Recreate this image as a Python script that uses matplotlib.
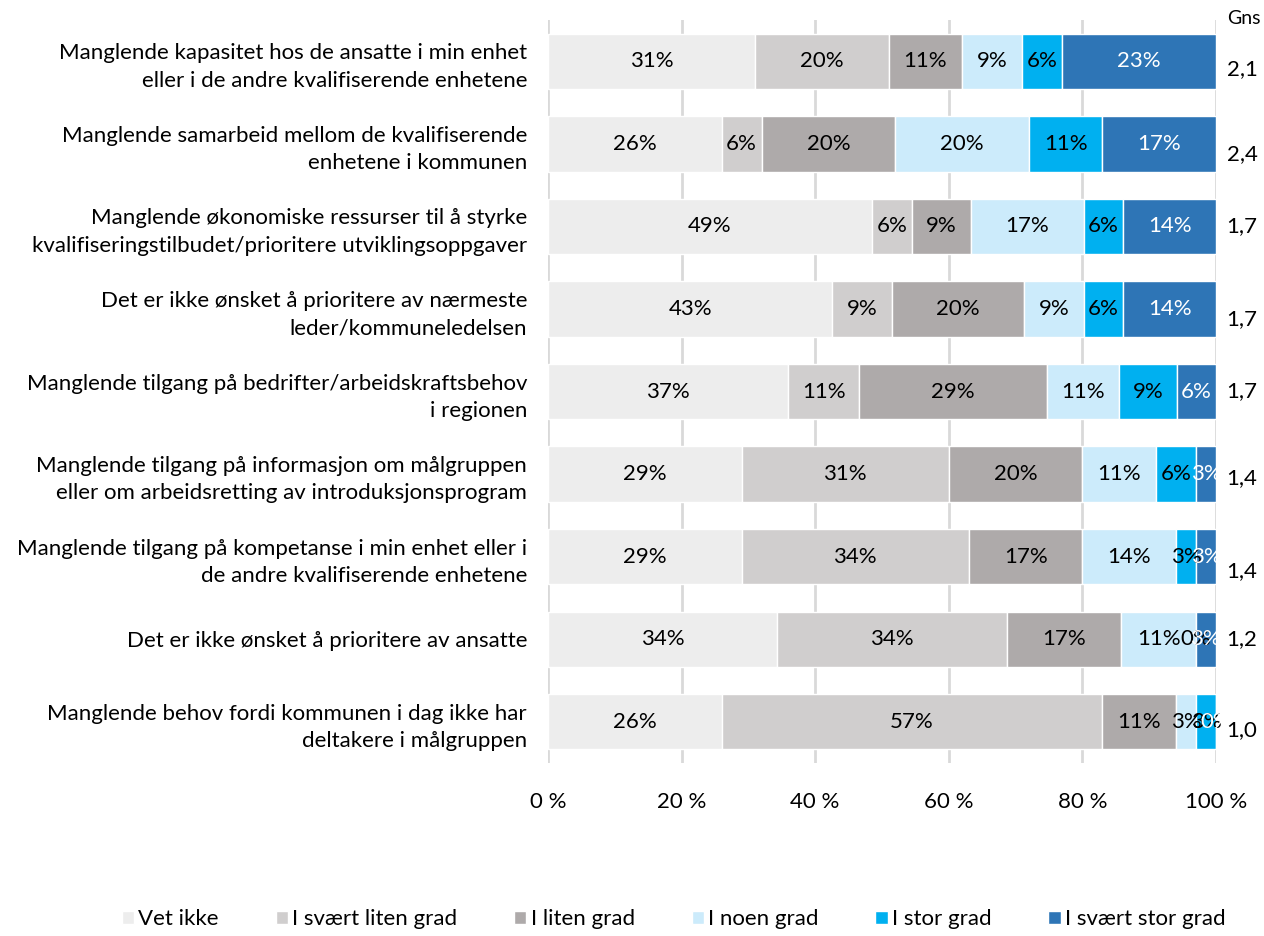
import numpy as np
import matplotlib.pyplot as plt

plt.rcParams['font.family'] = ['Lato', 'DejaVu Sans']

categories = [
    "Manglende kapasitet hos de ansatte i min enhet\neller i de andre kvalifiserende enhetene",
    "Manglende samarbeid mellom de kvalifiserende\nenhetene i kommunen",
    "Manglende økonomiske ressurser til å styrke\nkvalifiseringstilbudet/prioritere utviklingsoppgaver",
    "Det er ikke ønsket å prioritere av nærmeste\nleder/kommuneledelsen",
    "Manglende tilgang på bedrifter/arbeidskraftsbehov\ni regionen",
    "Manglende tilgang på informasjon om målgruppen\neller om arbeidsretting av introduksjonsprogram",
    "Manglende tilgang på kompetanse i min enhet eller i\nde andre kvalifiserende enhetene",
    "Det er ikke ønsket å prioritere av ansatte",
    "Manglende behov fordi kommunen i dag ikke har\ndeltakere i målgruppen",
]
series = ["Vet ikke", "I svært liten grad", "I liten grad", "I noen grad",
          "I stor grad", "I svært stor grad"]
vet_ikke      = [31, 26, 49, 43, 37, 29, 29, 34, 26]
svaert_liten  = [20, 6, 6, 9, 11, 31, 34, 34, 57]
liten         = [11, 20, 9, 20, 29, 20, 17, 17, 11]
noen          = [9, 20, 17, 9, 11, 11, 14, 11, 3]
stor          = [6, 11, 6, 6, 9, 6, 3, 0, 3]
svaert_stor   = [23, 17, 14, 14, 6, 3, 3, 3, 0]
gns = ["2,1", "2,4", "1,7", "1,7", "1,7", "1,4", "1,4", "1,2", "1,0"]

colors = ["#EDEDED", "#D0CECE", "#AEAAAA", "#CCEBFB", "#00B0F0", "#2E75B6"]
txtcol = ["black", "black", "black", "black", "black", "white"]
gns_dy = [0.1, 0.12, 0.0, 0.12, 0.0, 0.05, 0.17, 0.0, 0.1]

# Excel-style 100 % stacked: values are normalised per row
vals = np.array([vet_ikke, svaert_liten, liten, noen, stor, svaert_stor], dtype=float)
tot = vals.sum(axis=0)
frac = vals / tot * 100

fs = 16
fig = plt.figure(figsize=(12.64, 9.36), dpi=100)
ax = fig.add_axes([0.4335, 0.1848, 0.5285, 0.7938])
y = np.arange(len(categories))
left = np.zeros(len(categories))
for i in range(len(series)):
    ax.barh(y, frac[i], left=left, height=0.67, color=colors[i], label=series[i],
            edgecolor="white", linewidth=1.0, zorder=2)
    for j in range(len(categories)):
        ax.text(left[j] + frac[i][j] / 2, y[j], "%d%%" % vals[i][j], ha="center",
                va="center", fontsize=fs, color=txtcol[i], zorder=3)
    left += frac[i]

for j in range(len(categories)):
    ax.text(101.6, y[j] + gns_dy[j], gns[j], ha="left", va="center", fontsize=fs)
ax.text(101.6, -0.52, "Gns", ha="left", va="center", fontsize=14)

ax.set_xlim(0, 100)
ax.set_ylim(len(categories) - 0.5, -0.5)
ax.set_yticks(y)
ax.set_yticklabels(categories, fontsize=fs, linespacing=1.45)
ax.set_xticks(np.arange(0, 101, 20))
ax.set_xticklabels(["%d %%" % v for v in range(0, 101, 20)], fontsize=fs)
ax.tick_params(length=0)
ax.tick_params(axis="y", pad=15)
ax.tick_params(axis="x", pad=21)
ax.grid(axis="x", color="#D9D9D9", linewidth=2, zorder=0)
ax.set_axisbelow(True)
for s in ax.spines.values():
    s.set_visible(False)

fig.legend(loc="center", bbox_to_anchor=(0.533, 0.018), ncol=6, frameon=False,
           fontsize=fs, handlelength=0.55, handleheight=0.55, handletextpad=0.2,
           columnspacing=2.55)

plt.savefig("out.png", dpi=100)
